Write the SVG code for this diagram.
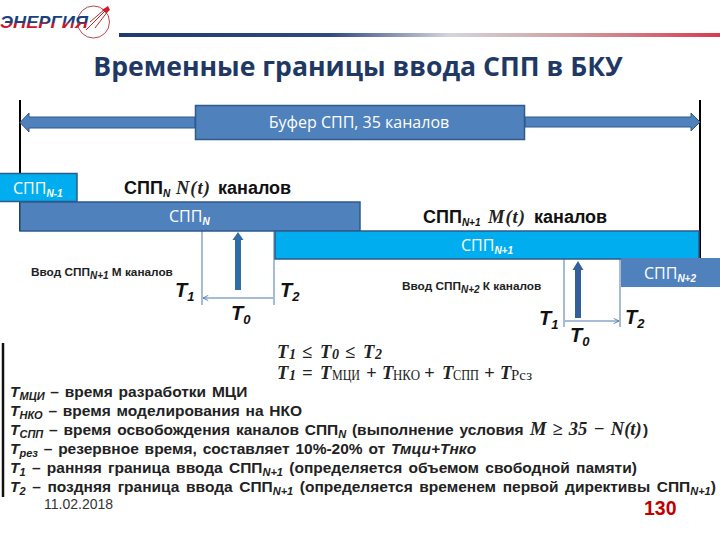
<svg xmlns="http://www.w3.org/2000/svg" width="720" height="540" viewBox="0 0 720 540">
<defs>
<linearGradient id="rule" x1="0" x2="1" y1="0" y2="0"><stop offset="0" stop-color="#1f3a6e"/><stop offset="0.35" stop-color="#2f4a7e"/><stop offset="0.55" stop-color="#d5d5de"/><stop offset="0.75" stop-color="#cfa0a0"/><stop offset="1" stop-color="#d83a50"/></linearGradient>
<linearGradient id="logoFill" x1="0" x2="0" y1="0" y2="1"><stop offset="0.52" stop-color="#1d3f7a"/><stop offset="0.52" stop-color="#c8182a"/></linearGradient>
<marker id="thin" viewBox="0 0 8 8" refX="7" refY="4" markerWidth="7" markerHeight="7" orient="auto-start-reverse"><path d="M1 1L7 4L1 7" fill="none" stroke="#4f78ab" stroke-width="1"/></marker>
</defs>
<style>
text{font-family:"Liberation Sans",Arial,sans-serif;}
.w{fill:#fff;font-size:16px;font-family:"Open Sans",sans-serif}
.bar{fill:#4f81bd;stroke:#2f5a8a;stroke-width:1.5}
.cy{fill:#00aeef;stroke:#2f5a8a;stroke-width:1.5}
.lab{font-size:18px;font-weight:bold;fill:#111}
.t{font-size:20px;font-weight:bold;font-style:italic;fill:#111}
.ts{font-size:13px}
.m{font-family:"Liberation Serif",serif;font-weight:bold;font-size:18.500px;font-style:italic;fill:#222}
.mr{font-family:"Liberation Serif",serif;font-size:14px;fill:#222}
.b{font-size:15.500px;font-weight:bold;fill:#222;word-spacing:1.5px}
.bi{font-style:italic}
.vl{stroke:#000;stroke-width:2;fill:none}
.th{stroke:#4f78ab;stroke-width:1;fill:none}
.s{font-size:10px;font-style:italic;font-weight:bold;font-family:"Liberation Sans",sans-serif}
.ls{font-size:11px;font-style:italic;font-weight:bold}
.in{font-size:11.800px;font-weight:bold;fill:#222}
</style>
<g id="logo">
<circle cx="93.500" cy="22" r="16" fill="none" stroke="#b5484f" stroke-width="1"/>
<path d="M108 8L86 30M105 9L90 22M108 11L95 28" stroke="#c0272d" stroke-width="1" fill="none"/>
<path d="M108 6L110 10L106 13L102 10Z" fill="#d01c2c"/>
<text x="0" y="28" font-size="17" font-weight="bold" font-style="italic" fill="url(#logoFill)" textLength="88" lengthAdjust="spacingAndGlyphs">ЭНЕРГИЯ</text>
</g>
<rect id="rule-line" x="119" y="33" width="601" height="4" fill="url(#rule)"/>
<text id="title" x="358" y="76" text-anchor="middle" font-size="26.600" font-weight="bold" fill="#1f3864" style="font-family:'Open Sans','DejaVu Sans',sans-serif">Временные границы ввода СПП в БКУ</text>
<g id="connectors">
<path class="vl" d="M20 100V231"/>
<path class="vl" d="M700 100V258"/>
<path d="M195 117H29V113L20 122.500L29 132V128H195ZM525 117H691V113L700 122L691 131V127H525Z" fill="#4f81bd" stroke="#2f5a8a" stroke-width="1"/>
<path d="M238 290V238" stroke="#2f6ea5" stroke-width="6" fill="none"/>
<path d="M232.500 240L238 232L243.500 240Z" fill="#2f6ea5"/>
<path d="M578 318V268" stroke="#34609a" stroke-width="6" fill="none"/>
<path d="M572.500 270L578 261L583.500 270Z" fill="#34609a"/>
<path class="th" d="M202 230V305M274 231V305M564 259V327M620 259V327"/>
<path class="th" d="M203 298H273M565 321H619" marker-start="url(#thin)" marker-end="url(#thin)"/>
<path d="M3 343V497" stroke="#111" stroke-width="2.500" fill="none"/>
</g>
<g id="buffer"><rect class="bar" x="195.500" y="105.500" width="329" height="34"/><text x="359" y="128" text-anchor="middle" class="w">Буфер СПП, 35 каналов</text></g>
<g id="sppn-1"><rect class="cy" x="-1" y="173.500" width="78" height="28"/><text x="13" y="194" class="w">СПП<tspan class="s" dy="3">N-1</tspan></text></g>
<g id="sppn"><rect class="bar" x="20" y="202" width="340" height="29"/><text x="169" y="222" class="w">СПП<tspan class="s" dy="3">N</tspan></text></g>
<g id="sppn1"><rect class="cy" x="275" y="231" width="424" height="28"/><text x="461" y="251" class="w">СПП<tspan class="s" dy="3">N+1</tspan></text></g>
<g id="sppn2"><rect x="621" y="258" width="99" height="29" fill="#4f81bd"/><text x="644" y="279" class="w">СПП<tspan class="s" dy="3">N+2</tspan></text></g>
<g id="labels">
<text x="124" y="194" class="lab">СПП<tspan class="s" dy="3">N</tspan><tspan class="m" x="176" dy="-3" font-size="19" letter-spacing="1">N(t)</tspan><tspan x="218">каналов</tspan></text>
<text x="423" y="223" class="lab">СПП<tspan class="s" dy="3">N+1</tspan><tspan class="m" x="488" dy="-3" font-size="19" letter-spacing="1">M(t)</tspan><tspan x="534">каналов</tspan></text>
<text x="31" y="276" class="in">Ввод СПП<tspan class="s" dy="3">N+1</tspan><tspan dy="-3"> М каналов</tspan></text>
<text x="402" y="290" class="in">Ввод СПП<tspan class="s" dy="3">N+2</tspan><tspan dy="-3"> К  каналов</tspan></text>
<text x="175" y="297" class="t">T<tspan class="ts" dy="4">1</tspan></text>
<text x="280" y="297" class="t">T<tspan class="ts" dy="4">2</tspan></text>
<text x="231" y="320" class="t">T<tspan class="ts" dy="4">0</tspan></text>
<text x="539" y="325" class="t">T<tspan class="ts" dy="4">1</tspan></text>
<text x="625" y="324" class="t">T<tspan class="ts" dy="4">2</tspan></text>
<text x="570" y="342" class="t">T<tspan class="ts" dy="4">0</tspan></text>
</g>
<g id="formulas">
<text x="277" y="357.500" class="m">T<tspan class="mr" font-weight="bold" x="289" dy="1">1</tspan><tspan x="302" dy="-1">≤</tspan><tspan x="320">T</tspan><tspan class="mr" font-weight="bold" x="332" dy="1">0</tspan><tspan x="345" dy="-1">≤</tspan><tspan x="363">T</tspan><tspan class="mr" font-weight="bold" x="375" dy="1">2</tspan></text>
<text x="277" y="379" class="m">T<tspan class="mr" font-weight="bold" x="289" dy="1">1</tspan><tspan x="302" dy="-1">=</tspan><tspan x="320">T</tspan><tspan class="mr" font-style="normal" font-weight="normal" x="332" dy="1" textLength="28" lengthAdjust="spacingAndGlyphs">МЦИ</tspan><tspan x="366" dy="-1">+</tspan><tspan x="382">T</tspan><tspan class="mr" font-style="normal" font-weight="normal" x="393" dy="1" textLength="27" lengthAdjust="spacingAndGlyphs">НКО</tspan><tspan x="424" dy="-1">+</tspan><tspan x="442">T</tspan><tspan class="mr" font-style="normal" font-weight="normal" x="453" dy="1" textLength="26" lengthAdjust="spacingAndGlyphs">СПП</tspan><tspan x="484" dy="-1">+</tspan><tspan x="500">T</tspan><tspan class="mr" font-style="normal" font-weight="normal" x="511" dy="1" textLength="21" lengthAdjust="spacingAndGlyphs">Рсз</tspan></text>
</g>
<g id="legend">
<text x="10" y="397" class="b"><tspan class="bi">T<tspan class="ls" dy="3">МЦИ</tspan></tspan><tspan dy="-3"> – время разработки МЦИ</tspan></text>
<text x="10" y="416" class="b"><tspan class="bi">T<tspan class="ls" dy="3">НКО</tspan></tspan><tspan dy="-3"> – время моделирования на НКО</tspan></text>
<text x="10" y="435" class="b"><tspan class="bi">T<tspan class="ls" dy="3">СПП</tspan></tspan><tspan dy="-3"> – время освобождения каналов СПП</tspan><tspan class="ls" dy="3">N</tspan><tspan dy="-3"> (выполнение условия </tspan><tspan class="m" x="530" font-size="14">M ≥ 35 − N(t)</tspan><tspan x="643">)</tspan></text>
<text x="10" y="454" class="b"><tspan class="bi">T<tspan class="ls" dy="3">рез</tspan></tspan><tspan dy="-3"> – резервное время, составляет 10%-20% от </tspan><tspan class="bi">Тмци+Тнко</tspan></text>
<text x="10" y="473" class="b" style="word-spacing:2px"><tspan class="bi">T<tspan class="ls" dy="3">1</tspan></tspan><tspan dy="-3">  – ранняя граница ввода СПП</tspan><tspan class="ls" dy="3">N+1</tspan><tspan dy="-3"> (определяется объемом свободной памяти)</tspan></text>
<text x="10" y="492" class="b" style="word-spacing:2.300px"><tspan class="bi">T<tspan class="ls" dy="3">2</tspan></tspan><tspan dy="-3">  – поздняя граница ввода СПП</tspan><tspan class="ls" dy="3">N+1</tspan><tspan dy="-3"> (определяется временем первой директивы СПП</tspan><tspan class="ls" dy="3">N+1</tspan><tspan dy="-3">)</tspan></text>
</g>
<text id="date" x="44" y="509" font-size="14" fill="#333">11.02.2018</text>
<text id="page" x="644" y="515" font-size="19.500" font-weight="bold" fill="#c00000">130</text>
</svg>
